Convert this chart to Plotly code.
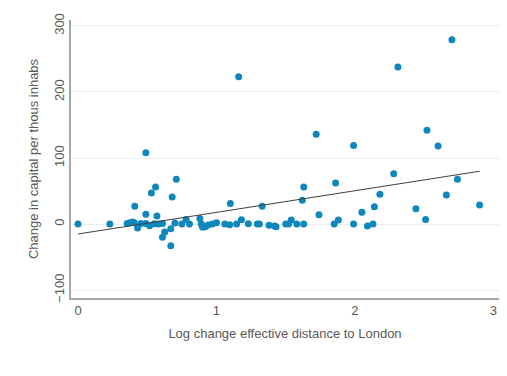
import plotly.graph_objects as go

# Scatter data: log change in effective distance to London vs change in capital per thousand inhabitants
dist_x = [
    0.00, 0.23, 0.41, 0.49, 0.53, 0.56, 0.68, 0.57,
    0.355, 0.376, 0.395, 0.407, 0.43, 0.455, 0.49, 0.517, 0.55, 0.58, 0.61, 0.626,
    0.61, 0.67, 0.67, 0.70, 0.75, 0.78, 0.805, 0.88, 0.89, 0.90, 0.92, 0.94, 0.97,
    1.00, 1.06, 1.095, 1.145, 1.18, 1.23, 1.295,
    0.49, 0.71, 1.16, 2.31, 2.70, 1.72, 1.99, 2.52, 2.60, 2.28, 2.74, 1.63, 1.86,
    1.62, 1.33, 2.18, 1.74, 2.05, 2.14, 2.44, 2.51, 2.66, 2.90, 1.10,
    1.31, 1.38, 1.42, 1.43, 1.50, 1.52, 1.54, 1.58, 1.63, 1.85, 1.88, 1.99, 2.09, 2.13,
]
capital_y = [
    0, 0, 27, 15, 47, 56, 41, 12,
    1, 2, 3, 2, -6, 1, 1, -2.5, 0.5, 0, 1, -12,
    -20, -7, -33, 1.5, 0, 7, 0, 8.5, 0, -5, -4, -1.5, 0,
    2, 0, -1, 0, 6.5, 0.5, 0,
    108, 68, 223, 238, 279, 136, 119, 142, 118, 76, 68, 56, 62,
    36, 27, 45, 14, 18, 26, 23, 7, 44, 29, 31,
    0, -2, -3, -4, 0, 0, 6, 0, 0, 0, 6, 0, -3, 0,
]

# Fitted line endpoints
fit_x = [0.0, 2.9]
fit_y = [-15, 80]

x_ticks = [0, 1, 2, 3]
y_ticks = [-100, 0, 100, 200, 300]

text_color = "#595959"
font_family = "Liberation Sans, Arial, sans-serif"

fig = go.Figure()
fig.add_trace(go.Scatter(
    x=dist_x, y=capital_y, mode="markers",
    marker=dict(color="#0f87bd", size=7, line=dict(width=0)),
    showlegend=False, hoverinfo="x+y",
))
fig.add_trace(go.Scatter(
    x=fit_x, y=fit_y, mode="lines",
    line=dict(color="#444444", width=1.1),
    showlegend=False, hoverinfo="skip",
))

fig.update_layout(
    width=491, height=360,
    margin=dict(l=63, r=0, t=12, b=70),
    paper_bgcolor="white", plot_bgcolor="white",
    font=dict(family=font_family, size=13, color=text_color),
    xaxis=dict(
        range=[-0.0505, 3.04], tickvals=x_ticks, showgrid=False, zeroline=False,
        showline=True, linecolor="#a6a6a6", linewidth=1.5,
        ticks="", automargin=False, ticklabeloverflow="allow",
        title=dict(text="Log change effective distance to London", standoff=12,
                   font=dict(size=13, color=text_color)),
    ),
    yaxis=dict(
        range=[-112, 309], tickvals=y_ticks, tickangle=-90,
        showgrid=True, gridcolor="#e8efef", gridwidth=1, zeroline=False,
        showline=True, linecolor="#a6a6a6", linewidth=1.5,
        ticks="", automargin=False, ticklabeloverflow="allow",
        title=dict(text="Change in capital per thous inhabs", standoff=10,
                   font=dict(size=13, color=text_color)),
    ),
)

fig.write_html("out.html")
